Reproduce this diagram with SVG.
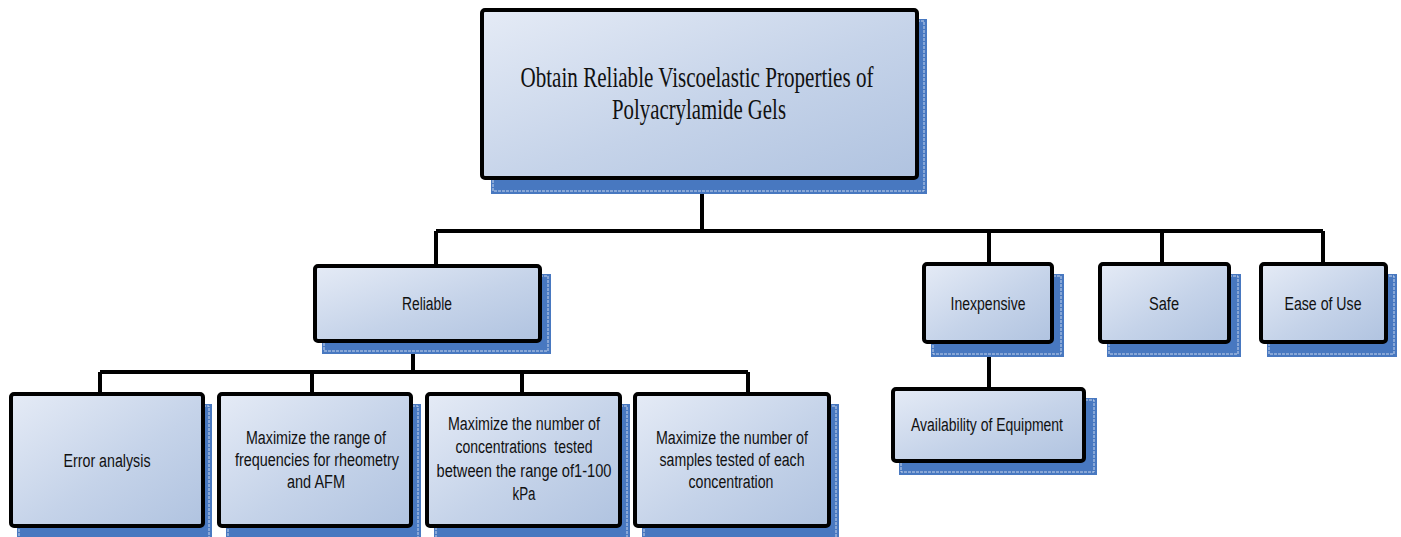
<svg xmlns="http://www.w3.org/2000/svg" width="1401" height="537" viewBox="0 0 1401 537">
<defs>
<linearGradient id="g" x1="0" y1="0" x2="1" y2="1">
<stop offset="0" stop-color="#e5ebf6"/>
<stop offset="0.55" stop-color="#c5d3e9"/>
<stop offset="1" stop-color="#b0c3e0"/>
</linearGradient>
<style>
.sh{fill:#4878c0}
.shd{fill:none;stroke:#e8eef8;stroke-width:0.8;stroke-dasharray:3 1}
.bx{fill:url(#g);stroke:#000;stroke-width:4}
.t{font-family:"Liberation Sans",Arial,sans-serif;font-size:18px;fill:#111;text-anchor:middle}
.tt{font-family:"Liberation Serif","Times New Roman",serif;font-size:30px;fill:#111;text-anchor:middle}
.c{fill:none;stroke:#000;stroke-width:4;stroke-linejoin:miter}
</style>
</defs>
<rect width="1401" height="537" fill="#fff"/>

<g id="connectors">
<path class="c" d="M702 178 V231 M436 231 H1323 M436 231 V265 M989 231 V263 M1162 231 V263 M1323 231 V263"/>
<path class="c" d="M413 342 V372 M100 372 H748 M100 372 V393 M312 372 V393 M522 372 V393 M748 372 V393"/>
<path class="c" d="M989 343 V388"/>
</g>

<g id="n-root">
<rect class="sh" x="491" y="19" width="436" height="175"/>
<rect class="shd" x="493" y="21" width="431" height="170"/>
<rect class="bx" x="482" y="10" width="435" height="168" rx="3"/>
<text class="tt" x="697" y="87" textLength="353" lengthAdjust="spacingAndGlyphs">Obtain Reliable Viscoelastic Properties of</text>
<text class="tt" x="699" y="119" textLength="174" lengthAdjust="spacingAndGlyphs">Polyacrylamide Gels</text>
</g>

<g id="n-reliable">
<rect class="sh" x="322" y="274" width="229" height="80"/>
<rect class="shd" x="324" y="276" width="224" height="75"/>
<rect class="bx" x="315" y="266" width="225" height="75" rx="3"/>
<text class="t" x="427" y="310" textLength="50" lengthAdjust="spacingAndGlyphs">Reliable</text>
</g>

<g id="n-inexpensive">
<rect class="sh" x="931" y="274" width="133" height="83"/>
<rect class="shd" x="933" y="276" width="128" height="78"/>
<rect class="bx" x="924" y="264" width="128" height="78" rx="3"/>
<text class="t" x="988" y="310" textLength="75" lengthAdjust="spacingAndGlyphs">Inexpensive</text>
</g>

<g id="n-safe">
<rect class="sh" x="1107" y="274" width="134" height="83"/>
<rect class="shd" x="1109" y="276" width="129" height="78"/>
<rect class="bx" x="1100" y="264" width="129" height="78" rx="3"/>
<text class="t" x="1164" y="310" textLength="30" lengthAdjust="spacingAndGlyphs">Safe</text>
</g>

<g id="n-ease">
<rect class="sh" x="1267" y="274" width="130" height="83"/>
<rect class="shd" x="1269" y="276" width="125" height="78"/>
<rect class="bx" x="1261" y="264" width="125" height="78" rx="3"/>
<text class="t" x="1323" y="310" textLength="77" lengthAdjust="spacingAndGlyphs">Ease of Use</text>
</g>

<g id="n-availability">
<rect class="sh" x="899" y="398" width="198" height="77"/>
<rect class="shd" x="901" y="400" width="193" height="72"/>
<rect class="bx" x="893" y="389" width="191" height="72" rx="3"/>
<text class="t" x="987" y="431" textLength="152" lengthAdjust="spacingAndGlyphs">Availability of Equipment</text>
</g>

<g id="n-error">
<rect class="sh" x="17" y="404" width="195" height="140"/>
<rect class="shd" x="19" y="406" width="190" height="135"/>
<rect class="bx" x="11" y="394" width="192" height="132" rx="3"/>
<text class="t" x="107" y="467" textLength="87" lengthAdjust="spacingAndGlyphs">Error analysis</text>
</g>

<g id="n-frequencies">
<rect class="sh" x="226" y="404" width="195" height="140"/>
<rect class="shd" x="228" y="406" width="190" height="135"/>
<rect class="bx" x="219" y="394" width="192" height="132" rx="3"/>
<text class="t" x="316" y="444" textLength="140" lengthAdjust="spacingAndGlyphs">Maximize the range of</text>
<text class="t" x="317" y="466" textLength="164" lengthAdjust="spacingAndGlyphs">frequencies for rheometry</text>
<text class="t" x="316" y="488" textLength="58" lengthAdjust="spacingAndGlyphs">and AFM</text>
</g>

<g id="n-concentrations">
<rect class="sh" x="434" y="404" width="196" height="140"/>
<rect class="shd" x="436" y="406" width="191" height="135"/>
<rect class="bx" x="427" y="394" width="193" height="132" rx="3"/>
<text class="t" x="524" y="430" textLength="152" lengthAdjust="spacingAndGlyphs">Maximize the number of</text>
<text class="t" x="524" y="453" textLength="137" lengthAdjust="spacingAndGlyphs" xml:space="preserve">concentrations  tested</text>
<text class="t" x="524" y="477" textLength="175" lengthAdjust="spacingAndGlyphs">between the range of1-100</text>
<text class="t" x="524" y="500" textLength="23" lengthAdjust="spacingAndGlyphs">kPa</text>
</g>

<g id="n-samples">
<rect class="sh" x="642" y="404" width="197" height="140"/>
<rect class="shd" x="644" y="406" width="192" height="135"/>
<rect class="bx" x="635" y="394" width="194" height="132" rx="3"/>
<text class="t" x="732" y="444" textLength="152" lengthAdjust="spacingAndGlyphs">Maximize the number of</text>
<text class="t" x="732" y="466" textLength="145" lengthAdjust="spacingAndGlyphs">samples tested of each</text>
<text class="t" x="731" y="488" textLength="85" lengthAdjust="spacingAndGlyphs">concentration</text>
</g>
</svg>
